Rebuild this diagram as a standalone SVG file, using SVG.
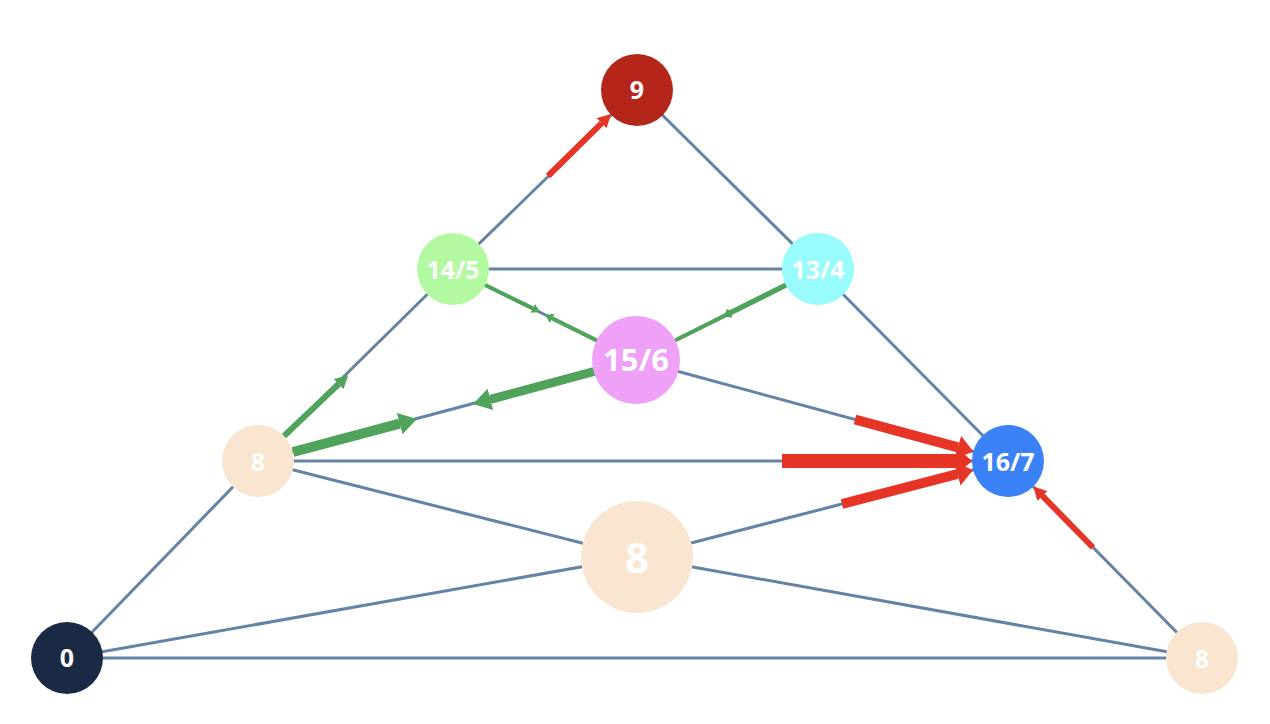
<svg xmlns="http://www.w3.org/2000/svg" width="1270" height="724" viewBox="0 0 1270 724">
<style>
.e{stroke:#6582a7;stroke-width:3;fill:none}
.r{stroke:#e63426;fill:none}
.g{stroke:#4fa35a;fill:none}
.lbl{font-family:"Open Sans","Noto Sans","Liberation Sans",sans-serif;font-weight:bold;fill:#ffffff;text-anchor:middle;dominant-baseline:central}
.s{font-size:25px}
</style>
<defs>
<marker id="redS" markerUnits="userSpaceOnUse" markerWidth="13" markerHeight="14" refX="0" refY="7" orient="auto"><path d="M0,0 L13,7 L0,14 z" fill="#e63426"/></marker>
<marker id="redM" markerUnits="userSpaceOnUse" markerWidth="16" markerHeight="24" refX="0" refY="12" orient="auto"><path d="M0,0 L16,12 L0,24 z" fill="#e63426"/></marker>
<marker id="redL" markerUnits="userSpaceOnUse" markerWidth="16" markerHeight="28" refX="0" refY="14" orient="auto"><path d="M0,0 L16,14 L0,28 z" fill="#e63426"/></marker>
<marker id="greenS" markerUnits="userSpaceOnUse" markerWidth="13" markerHeight="14" refX="0" refY="7" orient="auto"><path d="M0,0 L13,7 L0,14 z" fill="#4fa35a"/></marker>
<marker id="greenM" markerUnits="userSpaceOnUse" markerWidth="18" markerHeight="22" refX="0" refY="11" orient="auto"><path d="M0,0 L18,11 L0,22 z" fill="#4fa35a"/></marker>
<marker id="greenT" markerUnits="userSpaceOnUse" markerWidth="8" markerHeight="10" refX="0" refY="5" orient="auto"><path d="M0,0 L8,5 L0,10 z" fill="#4fa35a"/></marker>
</defs>
<rect width="1270" height="724" fill="#ffffff"/>
<g id="connectors">
<line class="e" x1="67" y1="658" x2="258" y2="461"/>
<line class="e" x1="258" y1="461" x2="453" y2="269"/>
<line class="e" x1="453" y1="269" x2="637" y2="90"/>
<line class="e" x1="637" y1="90" x2="818" y2="269"/>
<line class="e" x1="818" y1="269" x2="1008" y2="461"/>
<line class="e" x1="1008" y1="461" x2="1202" y2="658"/>
<line class="e" x1="67" y1="658" x2="1202" y2="658"/>
<line class="e" x1="453" y1="269" x2="818" y2="269"/>
<line class="e" x1="258" y1="461" x2="1008" y2="461"/>
<line class="e" x1="453" y1="269" x2="636" y2="360"/>
<line class="e" x1="818" y1="269" x2="636" y2="360"/>
<line class="e" x1="258" y1="461" x2="636" y2="360"/>
<line class="e" x1="636" y1="360" x2="1008" y2="461"/>
<line class="e" x1="258" y1="461" x2="637" y2="557"/>
<line class="e" x1="637" y1="557" x2="1202" y2="658"/>
<line class="e" x1="67" y1="658" x2="637" y2="557"/>
<line class="e" x1="637" y1="557" x2="1008" y2="461"/>
<line class="r" stroke-width="6" x1="548" y1="176" x2="601.7" y2="123.1" marker-end="url(#redS)"/>
<line class="g" stroke-width="6" x1="284" y1="436" x2="338.7" y2="384.1" marker-end="url(#greenS)"/>
<line class="g" stroke-width="10" x1="293" y1="452" x2="399.6" y2="423.6" marker-end="url(#greenM)"/>
<line class="g" stroke-width="9" x1="594" y1="371.5" x2="490.4" y2="399.4" marker-end="url(#greenM)"/>
<line class="g" stroke-width="4" x1="485.2" y1="285" x2="532.8" y2="308.4" marker-end="url(#greenT)"/>
<line class="g" stroke-width="4" x1="596.6" y1="340.4" x2="552.2" y2="318.4" marker-end="url(#greenT)"/>
<line class="g" stroke-width="5.5" x1="785.8" y1="285.1" x2="730.2" y2="312.9" marker-end="url(#greenT)"/>
<line class="g" stroke-width="4" x1="675.4" y1="340.3" x2="727.8" y2="314.1" marker-end="url(#greenT)"/>
<line class="r" stroke-width="10" x1="855" y1="419.5" x2="957.9" y2="447.4" marker-end="url(#redM)"/>
<line class="r" stroke-width="14" x1="782" y1="461" x2="956" y2="461" marker-end="url(#redL)"/>
<line class="r" stroke-width="10" x1="842" y1="504" x2="957.5" y2="474" marker-end="url(#redM)"/>
<line class="r" stroke-width="6" x1="1093" y1="547.5" x2="1042.4" y2="495.9" marker-end="url(#redS)"/>
</g>
<g id="n9"><circle cx="637" cy="90" r="36" fill="#b5261a"/><text class="lbl s" x="637" y="89">9</text></g>
<g id="n14_5"><circle cx="453" cy="269" r="36" fill="#b3f9a1"/><text class="lbl s" x="453" y="269">14/5</text></g>
<g id="n13_4"><circle cx="818" cy="269" r="36" fill="#98fbfc"/><text class="lbl s" x="818" y="269">13/4</text></g>
<g id="n15_6"><circle cx="636" cy="360" r="44" fill="#eea1f7"/><text class="lbl" x="636" y="359" font-size="31">15/6</text></g>
<g id="n8L"><circle cx="258" cy="461" r="36" fill="#f9e5d0"/><text class="lbl s" x="258" y="461">8</text></g>
<g id="n16_7"><circle cx="1008" cy="461" r="36" fill="#3b82f6"/><text class="lbl s" x="1008" y="461">16/7</text></g>
<g id="n8C"><circle cx="637" cy="557" r="56" fill="#f9e5d0"/><text class="lbl" x="637" y="556" font-size="42">8</text></g>
<g id="n0"><circle cx="67" cy="658" r="36" fill="#1b2a44"/><text class="lbl s" x="67" y="657">0</text></g>
<g id="n8R"><circle cx="1202" cy="658" r="36" fill="#f9e5d0"/><text class="lbl s" x="1202" y="658">8</text></g>
</svg>
